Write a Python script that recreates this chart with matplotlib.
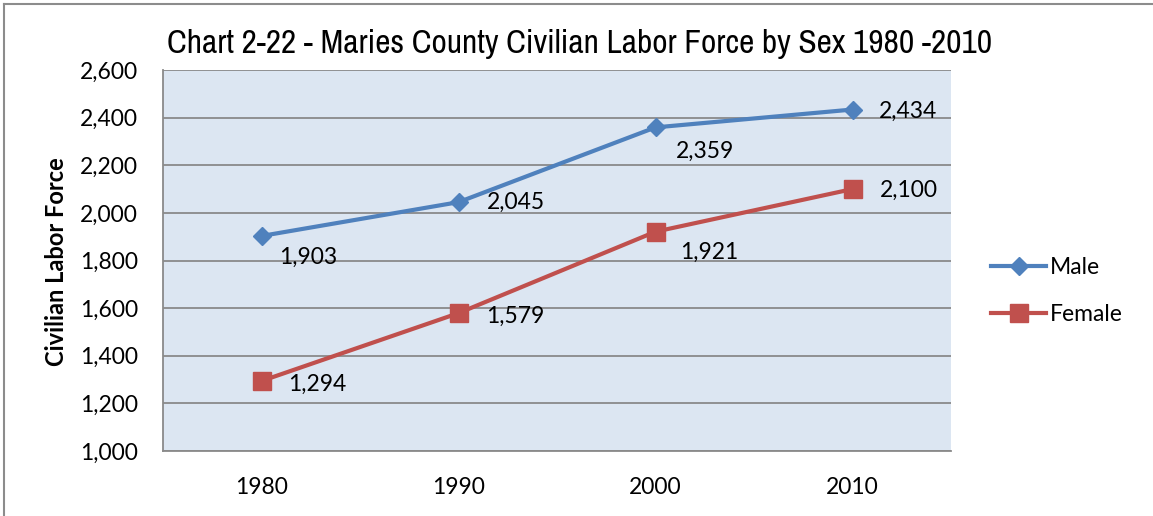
import matplotlib
matplotlib.use("Agg")
import matplotlib.pyplot as plt
from matplotlib.lines import Line2D
from matplotlib import font_manager

years = ["1980", "1990", "2000", "2010"]
male = [1903, 2045, 2359, 2434]
female = [1294, 1579, 1921, 2100]
yticks = [1000, 1200, 1400, 1600, 1800, 2000, 2200, 2400, 2600]

plt.rcParams['font.family'] = ['Lato', 'DejaVu Sans']

# pick a condensed font for the title if one is installed
title_family = 'Roboto'
for f in font_manager.fontManager.ttflist:
    if 'Narrow' in f.name or 'Condensed' in f.name:
        title_family = f.name
        break

W, H = 1153, 516
fig = plt.figure(figsize=(W / 100, H / 100), dpi=100)
fig.add_artist(Line2D([4 / W, 4 / W], [0, 1 - 4 / H], transform=fig.transFigure,
                      color='#8c8c8c', linewidth=1.5))
fig.add_artist(Line2D([4 / W, 1], [1 - 4 / H, 1 - 4 / H], transform=fig.transFigure,
                      color='#8c8c8c', linewidth=1.5))

ax = fig.add_axes([163 / W, 1 - 451 / H, (951 - 163) / W, (451 - 70) / H])
ax.set_facecolor('#DCE6F2')
xs = [i + 0.5 for i in range(len(years))]
ax.set_xlim(0, len(years))
ax.set_ylim(1000, 2600)
ax.set_yticks(yticks)
ax.set_yticklabels([f"{v:,}" for v in yticks], fontsize=16.5)
ax.set_xticks(xs)
ax.set_xticklabels(years, fontsize=16.5)
ax.tick_params(axis='x', length=0, pad=19)
ax.tick_params(axis='y', length=0, pad=18)
ax.yaxis.grid(True, color='#8a8a8a', linewidth=1.3)
ax.set_axisbelow(True)
for s in ['top', 'right']:
    ax.spines[s].set_visible(False)
for s in ['left', 'bottom']:
    ax.spines[s].set_color('#8a8a8a')
    ax.spines[s].set_linewidth(1.3)

ax.plot(xs, male, color='#4F81BD', linewidth=3, marker='D', markersize=9,
        markeredgewidth=1, label='Male')
ax.plot(xs, female, color='#C0504D', linewidth=3, marker='s', markersize=13.5,
        markeredgewidth=1, label='Female')

# data label offsets in pixels (left edge, vertical centre)
male_off = [(18, -21), (28, 0), (20, -24), (26, -2)]
female_off = [(27, -3), (28, -3), (25, -21), (27, -1)]
for x, v, (dx, dy) in zip(xs, male, male_off):
    ax.annotate(f"{v:,}", (x, v), xytext=(dx, dy), textcoords='offset pixels',
                fontsize=16.5, ha='left', va='center')
for x, v, (dx, dy) in zip(xs, female, female_off):
    ax.annotate(f"{v:,}", (x, v), xytext=(dx, dy), textcoords='offset pixels',
                fontsize=16.5, ha='left', va='center')

fig.text(57 / W, 1 - 262 / H, "Civilian Labor Force", rotation=90, fontsize=17,
         fontweight='bold', ha='center', va='center')
fig.text(580 / W, 1 - 44 / H, "Chart 2-22 - Maries County Civilian Labor Force by Sex 1980 -2010",
         fontsize=24, ha='center', va='center', fontweight='medium',
         family=[title_family, 'DejaVu Sans'])

fig.legend(*ax.get_legend_handles_labels(), loc='center left',
           bbox_to_anchor=(991 / W, 1 - 291 / H), frameon=False, fontsize=16.5,
           handlelength=2.4, handletextpad=0.15, labelspacing=1.15,
           borderpad=0, borderaxespad=0)

fig.savefig("out.png", dpi=100)
